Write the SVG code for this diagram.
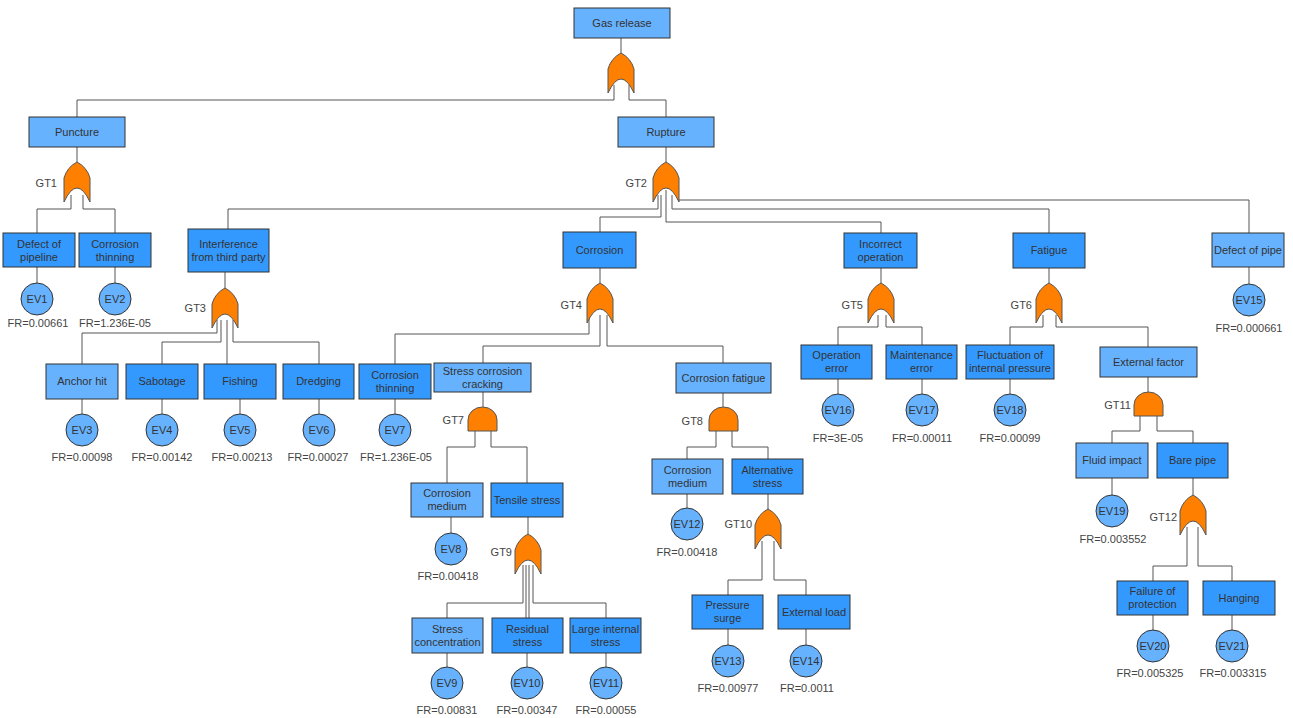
<svg xmlns="http://www.w3.org/2000/svg" width="1293" height="718" viewBox="0 0 1293 718">
<style>
text{font-family:"Liberation Sans",Arial,sans-serif;font-size:11px;fill:#333;}
.t{text-anchor:middle;}
.gl{text-anchor:end;fill:#444;}
.fr{text-anchor:middle;fill:#444;}
.bl{fill:#66B2FF;stroke:#333;stroke-width:1;}
.bd{fill:#3399FF;stroke:#333;stroke-width:1;}
.ev{fill:#66B2FF;stroke:#333;stroke-width:1;}
.g{fill:#FF8000;stroke:#555;stroke-width:1;}
.c{fill:none;stroke:#555;stroke-width:1;}
</style>
<rect width="1293" height="718" fill="#fff"/>
<defs>
<path id="or" d="M0,40 L0,16 A26,26 0 0 1 13,0 A26,26 0 0 1 26,16 L26,40 Q13,12 0,40 Z"/>
<path id="and" d="M0,24 L0,13 A14.5,13 0 0 1 29,13 L29,24 Z"/>
</defs>
<g id="connectors" class="c">
<path d="M621,38 V53"/>
<path d="M614,85 V100 H77 V117"/>
<path d="M629,85 V100 H666 V117"/>
<path d="M77,147 V162"/>
<path d="M666,147 V162"/>
<path d="M71,195 V209 H37 V233"/>
<path d="M83,195 V209 H115 V233"/>
<path d="M658,195 V209 H228 V229"/>
<path d="M661,195 V217 H600 V232"/>
<path d="M666,190 V222 H881 V233"/>
<path d="M672,195 V209 H1049 V233"/>
<path d="M678,196 V200 H1249 V233"/>
<path d="M225,272 V288"/>
<path d="M217,320 V333 H82 V364"/>
<path d="M221,320 V342 H162 V364"/>
<path d="M227,320 V364"/>
<path d="M233,320 V342 H319 V364"/>
<path d="M600,268 V283"/>
<path d="M589,315 V334 H395 V364"/>
<path d="M600,315 V346 H483 V363"/>
<path d="M607,315 V346 H723 V363"/>
<path d="M483,392 V407"/>
<path d="M475,428 V447 H447 V483"/>
<path d="M491,428 V447 H527 V483"/>
<path d="M528,517 V534"/>
<path d="M523,565 V603 H447 V618"/>
<path d="M526,565 V618"/>
<path d="M529,565 V618"/>
<path d="M533,565 V603 H606 V618"/>
<path d="M723,393 V407"/>
<path d="M716,428 V447 H687 V459"/>
<path d="M732,428 V447 H768 V459"/>
<path d="M768,494 V509"/>
<path d="M762,541 V580 H728 V595"/>
<path d="M774,541 V580 H806 V595"/>
<path d="M881,268 V283"/>
<path d="M878,315 V327 H838 V345"/>
<path d="M886,315 V327 H922 V345"/>
<path d="M1049,268 V283"/>
<path d="M1043,315 V327 H1010 V345"/>
<path d="M1056,315 V327 H1148 V347"/>
<path d="M1148,377 V392"/>
<path d="M1140,412 V431 H1112 V443"/>
<path d="M1157,412 V431 H1193 V443"/>
<path d="M1193,478 V495"/>
<path d="M1187,527 V566 H1153 V581"/>
<path d="M1198,527 V566 H1232 V581"/>
<path d="M37,267 V283"/>
<path d="M115,267 V283"/>
<path d="M82,399 V414"/>
<path d="M162,399 V414"/>
<path d="M240,399 V414"/>
<path d="M319,399 V414"/>
<path d="M395,399 V414"/>
<path d="M451,517 V533"/>
<path d="M447,653 V667"/>
<path d="M527,653 V667"/>
<path d="M606,653 V667"/>
<path d="M687,494 V508"/>
<path d="M728,629 V645"/>
<path d="M806,629 V645"/>
<path d="M1249,267 V284"/>
<path d="M838,379 V394"/>
<path d="M922,379 V394"/>
<path d="M1010,379 V394"/>
<path d="M1112,478 V495"/>
<path d="M1153,615 V630"/>
<path d="M1232,615 V630"/>
</g>
<g id="gates">
<g id="G0"><use href="#or" x="608" y="53" class="g"/></g>
<g id="GT1"><use href="#or" x="64" y="162" class="g"/><text class="gl" x="57" y="187">GT1</text></g>
<g id="GT2"><use href="#or" x="653" y="162" class="g"/><text class="gl" x="647" y="187">GT2</text></g>
<g id="GT3"><use href="#or" x="212" y="288" class="g"/><text class="gl" x="206" y="312">GT3</text></g>
<g id="GT4"><use href="#or" x="587" y="283" class="g"/><text class="gl" x="582" y="309">GT4</text></g>
<g id="GT5"><use href="#or" x="868" y="283" class="g"/><text class="gl" x="863" y="309">GT5</text></g>
<g id="GT6"><use href="#or" x="1036" y="283" class="g"/><text class="gl" x="1032" y="309">GT6</text></g>
<g id="GT7"><use href="#and" x="468" y="407" class="g"/><text class="gl" x="464" y="424">GT7</text></g>
<g id="GT8"><use href="#and" x="709" y="407" class="g"/><text class="gl" x="703" y="425">GT8</text></g>
<g id="GT9"><use href="#or" x="515" y="534" class="g"/><text class="gl" x="512" y="556">GT9</text></g>
<g id="GT10"><use href="#or" x="755" y="509" class="g"/><text class="gl" x="752" y="528">GT10</text></g>
<g id="GT11"><use href="#and" x="1134" y="392" class="g"/><text class="gl" x="1131" y="409">GT11</text></g>
<g id="GT12"><use href="#or" x="1180" y="495" class="g"/><text class="gl" x="1177" y="521">GT12</text></g>
</g>
<g id="events">
<g id="n-gas"><rect class="bl" x="574" y="8" width="96" height="30"/><text class="t" x="622" y="27">Gas release</text></g>
<g id="n-puncture"><rect class="bl" x="29" y="117" width="96" height="30"/><text class="t" x="77" y="136">Puncture</text></g>
<g id="n-rupture"><rect class="bl" x="618" y="117" width="96" height="30"/><text class="t" x="666" y="136">Rupture</text></g>
<g id="n-defpipeline"><rect class="bd" x="3" y="233" width="72" height="34"/><text class="t" x="39" y="248">Defect of</text><text class="t" x="39" y="261">pipeline</text></g>
<g id="n-corthin1"><rect class="bd" x="79" y="233" width="72" height="34"/><text class="t" x="115" y="248">Corrosion</text><text class="t" x="115" y="261">thinning</text></g>
<g id="n-interf"><rect class="bd" x="188" y="229" width="81" height="43"/><text class="t" x="228.5" y="248">Interference</text><text class="t" x="228.5" y="261">from third party</text></g>
<g id="n-corrosion"><rect class="bd" x="563" y="232" width="73" height="36"/><text class="t" x="599.5" y="254">Corrosion</text></g>
<g id="n-incorrect"><rect class="bd" x="844" y="233" width="73" height="35"/><text class="t" x="880.5" y="248">Incorrect</text><text class="t" x="880.5" y="261">operation</text></g>
<g id="n-fatigue"><rect class="bd" x="1013" y="233" width="72" height="35"/><text class="t" x="1049" y="254">Fatigue</text></g>
<g id="n-defpipe"><rect class="bl" x="1212" y="233" width="72" height="34"/><text class="t" x="1248" y="254">Defect of pipe</text></g>
<g id="n-anchor"><rect class="bl" x="46" y="364" width="72" height="35"/><text class="t" x="82" y="385">Anchor hit</text></g>
<g id="n-sabotage"><rect class="bd" x="126" y="364" width="72" height="35"/><text class="t" x="162" y="385">Sabotage</text></g>
<g id="n-fishing"><rect class="bd" x="204" y="364" width="72" height="35"/><text class="t" x="240" y="385">Fishing</text></g>
<g id="n-dredging"><rect class="bd" x="283" y="364" width="71" height="35"/><text class="t" x="318.5" y="385">Dredging</text></g>
<g id="n-corthin2"><rect class="bd" x="359" y="364" width="72" height="35"/><text class="t" x="395" y="379">Corrosion</text><text class="t" x="395" y="392">thinning</text></g>
<g id="n-scc"><rect class="bl" x="434" y="363" width="97" height="29"/><text class="t" x="482.5" y="375">Stress corrosion</text><text class="t" x="482.5" y="388">cracking</text></g>
<g id="n-corfat"><rect class="bl" x="676" y="363" width="95" height="30"/><text class="t" x="723.5" y="382">Corrosion fatigue</text></g>
<g id="n-operr"><rect class="bd" x="801" y="345" width="71" height="34"/><text class="t" x="836.5" y="359">Operation</text><text class="t" x="836.5" y="372">error</text></g>
<g id="n-mainterr"><rect class="bd" x="886" y="345" width="71" height="34"/><text class="t" x="921.5" y="359">Maintenance</text><text class="t" x="921.5" y="372">error</text></g>
<g id="n-fluct"><rect class="bd" x="966" y="345" width="88" height="34"/><text class="t" x="1010" y="359">Fluctuation of</text><text class="t" x="1010" y="372">internal pressure</text></g>
<g id="n-extfac"><rect class="bl" x="1100" y="347" width="97" height="30"/><text class="t" x="1148.5" y="366">External factor</text></g>
<g id="n-cormed1"><rect class="bl" x="411" y="483" width="72" height="34"/><text class="t" x="447" y="497">Corrosion</text><text class="t" x="447" y="510">medium</text></g>
<g id="n-tensile"><rect class="bd" x="491" y="483" width="72" height="34"/><text class="t" x="527" y="504">Tensile stress</text></g>
<g id="n-cormed2"><rect class="bl" x="652" y="459" width="71" height="35"/><text class="t" x="687.5" y="474">Corrosion</text><text class="t" x="687.5" y="487">medium</text></g>
<g id="n-altstress"><rect class="bd" x="732" y="459" width="71" height="35"/><text class="t" x="767.5" y="474">Alternative</text><text class="t" x="767.5" y="487">stress</text></g>
<g id="n-fluid"><rect class="bl" x="1076" y="443" width="72" height="35"/><text class="t" x="1112" y="464">Fluid impact</text></g>
<g id="n-bare"><rect class="bd" x="1157" y="443" width="71" height="35"/><text class="t" x="1192.5" y="464">Bare pipe</text></g>
<g id="n-stressconc"><rect class="bl" x="412" y="618" width="71" height="35"/><text class="t" x="447.5" y="633">Stress</text><text class="t" x="447.5" y="646">concentration</text></g>
<g id="n-residual"><rect class="bd" x="492" y="618" width="71" height="35"/><text class="t" x="527.5" y="633">Residual</text><text class="t" x="527.5" y="646">stress</text></g>
<g id="n-large"><rect class="bd" x="570" y="618" width="71" height="35"/><text class="t" x="605.5" y="633">Large internal</text><text class="t" x="605.5" y="646">stress</text></g>
<g id="n-surge"><rect class="bd" x="692" y="595" width="71" height="34"/><text class="t" x="727.5" y="609">Pressure</text><text class="t" x="727.5" y="622">surge</text></g>
<g id="n-extload"><rect class="bd" x="778" y="595" width="72" height="34"/><text class="t" x="814" y="616">External load</text></g>
<g id="n-failprot"><rect class="bd" x="1117" y="581" width="71" height="34"/><text class="t" x="1152.5" y="595">Failure of</text><text class="t" x="1152.5" y="608">protection</text></g>
<g id="n-hanging"><rect class="bd" x="1203" y="581" width="72" height="34"/><text class="t" x="1239" y="602">Hanging</text></g>
</g>
<g id="basic">
<g id="EV1"><circle class="ev" cx="37" cy="299" r="16"/><text class="t" x="37" y="303">EV1</text><text class="fr" x="38" y="327">FR=0.00661</text></g>
<g id="EV2"><circle class="ev" cx="115" cy="299" r="16"/><text class="t" x="115" y="303">EV2</text><text class="fr" x="115" y="327">FR=1.236E-05</text></g>
<g id="EV3"><circle class="ev" cx="82" cy="430" r="16"/><text class="t" x="82" y="434">EV3</text><text class="fr" x="82" y="461">FR=0.00098</text></g>
<g id="EV4"><circle class="ev" cx="162" cy="430" r="16"/><text class="t" x="162" y="434">EV4</text><text class="fr" x="162" y="461">FR=0.00142</text></g>
<g id="EV5"><circle class="ev" cx="240" cy="430" r="16"/><text class="t" x="240" y="434">EV5</text><text class="fr" x="242" y="461">FR=0.00213</text></g>
<g id="EV6"><circle class="ev" cx="319" cy="430" r="16"/><text class="t" x="319" y="434">EV6</text><text class="fr" x="318" y="461">FR=0.00027</text></g>
<g id="EV7"><circle class="ev" cx="395" cy="430" r="16"/><text class="t" x="395" y="434">EV7</text><text class="fr" x="396" y="461">FR=1.236E-05</text></g>
<g id="EV8"><circle class="ev" cx="451" cy="549" r="16"/><text class="t" x="451" y="553">EV8</text><text class="fr" x="448" y="580">FR=0.00418</text></g>
<g id="EV9"><circle class="ev" cx="447" cy="683" r="16"/><text class="t" x="447" y="687">EV9</text><text class="fr" x="447" y="714">FR=0.00831</text></g>
<g id="EV10"><circle class="ev" cx="527" cy="683" r="16"/><text class="t" x="527" y="687">EV10</text><text class="fr" x="527" y="714">FR=0.00347</text></g>
<g id="EV11"><circle class="ev" cx="606" cy="683" r="16"/><text class="t" x="606" y="687">EV11</text><text class="fr" x="606" y="714">FR=0.00055</text></g>
<g id="EV12"><circle class="ev" cx="687" cy="524" r="16"/><text class="t" x="687" y="528">EV12</text><text class="fr" x="687" y="556">FR=0.00418</text></g>
<g id="EV13"><circle class="ev" cx="728" cy="661" r="16"/><text class="t" x="728" y="665">EV13</text><text class="fr" x="728" y="692">FR=0.00977</text></g>
<g id="EV14"><circle class="ev" cx="806" cy="661" r="16"/><text class="t" x="806" y="665">EV14</text><text class="fr" x="807" y="692">FR=0.0011</text></g>
<g id="EV15"><circle class="ev" cx="1249" cy="300" r="16"/><text class="t" x="1249" y="304">EV15</text><text class="fr" x="1249" y="332">FR=0.000661</text></g>
<g id="EV16"><circle class="ev" cx="838" cy="410" r="16"/><text class="t" x="838" y="414">EV16</text><text class="fr" x="838" y="442">FR=3E-05</text></g>
<g id="EV17"><circle class="ev" cx="922" cy="410" r="16"/><text class="t" x="922" y="414">EV17</text><text class="fr" x="922" y="442">FR=0.00011</text></g>
<g id="EV18"><circle class="ev" cx="1010" cy="410" r="16"/><text class="t" x="1010" y="414">EV18</text><text class="fr" x="1010" y="442">FR=0.00099</text></g>
<g id="EV19"><circle class="ev" cx="1112" cy="511" r="16"/><text class="t" x="1112" y="515">EV19</text><text class="fr" x="1113" y="543">FR=0.003552</text></g>
<g id="EV20"><circle class="ev" cx="1153" cy="646" r="16"/><text class="t" x="1153" y="650">EV20</text><text class="fr" x="1150" y="677">FR=0.005325</text></g>
<g id="EV21"><circle class="ev" cx="1232" cy="646" r="16"/><text class="t" x="1232" y="650">EV21</text><text class="fr" x="1233" y="677">FR=0.003315</text></g>
</g>
</svg>
